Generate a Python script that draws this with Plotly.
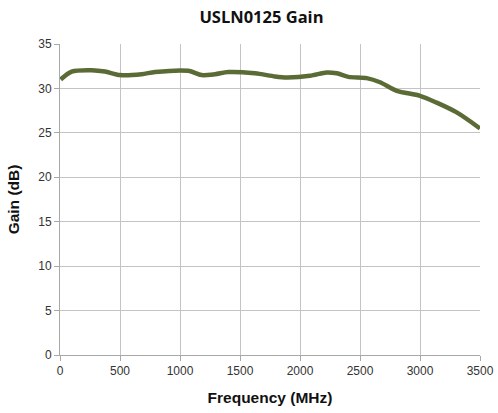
import plotly.graph_objects as go

freq_mhz = [5, 97, 264, 375, 500, 680, 792, 1070, 1180, 1292, 1403, 1625, 1792,
            1889, 2083, 2222, 2306, 2403, 2556, 2667, 2806, 3000, 3139, 3306, 3500]
gain_db = [31.0, 31.9, 32.05, 31.9, 31.5, 31.6, 31.85, 31.98, 31.5, 31.6, 31.85, 31.7, 31.35,
           31.24, 31.42, 31.8, 31.7, 31.3, 31.16, 30.7, 29.73, 29.17, 28.4, 27.3, 25.5]
x_ticks = [0, 500, 1000, 1500, 2000, 2500, 3000, 3500]
y_ticks = [0, 5, 10, 15, 20, 25, 30, 35]

fig = go.Figure()
fig.add_trace(go.Scatter(
    x=freq_mhz, y=gain_db, mode="lines",
    line=dict(color="#5b6b36", width=4.5, shape="spline", smoothing=0.8),
    showlegend=False, hoverinfo="skip"))

axis_common = dict(
    showgrid=True, gridcolor="#c4c4c4", gridwidth=1,
    showline=True, linecolor="#a8a8a8", linewidth=1,
    ticks="outside", ticklen=5, tickcolor="#a8a8a8",
    tickfont=dict(family="Liberation Sans, Arial", size=12, color="#333"),
    zeroline=False, automargin=False,
)

fig.update_layout(
    width=498, height=413,
    margin=dict(l=60, r=18, t=44, b=58),
    paper_bgcolor="white", plot_bgcolor="white",
    title=dict(text="<b>USLN0125 Gain</b>", x=0.525, xanchor="center", y=0.958, yanchor="middle",
               font=dict(family="Open Sans, Liberation Sans", size=16.5, color="#111")),
    xaxis=dict(range=[0, 3500], tickvals=x_ticks, **axis_common,
               title=dict(text="<b>Frequency (MHz)</b>", standoff=14,
                          font=dict(family="Liberation Sans, Arial", size=15.5, color="#111"))),
    yaxis=dict(range=[0, 35], tickvals=y_ticks, **axis_common,
               title=dict(text="<b>Gain (dB)</b>", standoff=14,
                          font=dict(family="Liberation Sans, Arial", size=15.5, color="#111"))),
)

fig.write_html(
    "out.html",
    config={"displayModeBar": False, "staticPlot": True},
    post_script="document.body.style.margin='0';document.documentElement.style.overflow='hidden';",
)
